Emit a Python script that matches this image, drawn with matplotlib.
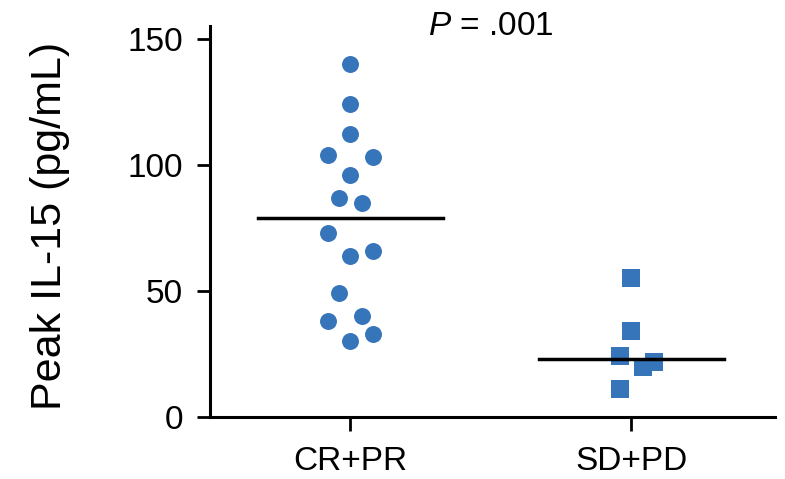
import numpy as np
import matplotlib
matplotlib.use("Agg")
import matplotlib.pyplot as plt

plt.rcParams['font.family'] = ['Liberation Sans', 'DejaVu Sans']
plt.rcParams['mathtext.fontset'] = 'custom'
plt.rcParams['mathtext.it'] = 'Liberation Sans:italic'
plt.rcParams['mathtext.rm'] = 'Liberation Sans'

groups = ["CR+PR", "SD+PD"]

# peak IL-15 values, with small horizontal jitter offsets
cr_pr = [140, 124, 112, 104, 103, 96, 87, 85, 73, 64, 66, 49, 38, 40, 30, 33]
cr_pr_dx = [0, 0, 0, -0.08, 0.08, 0, -0.04, 0.04, -0.08, 0, 0.08, -0.04, -0.08, 0.04, 0, 0.08]
sd_pd = [55, 34, 24, 20, 22, 11]
sd_pd_dx = [0, 0, -0.04, 0.04, 0.08, -0.04]
medians = [79, 23]
p_text = r"$\it{P}$ = .001"

blue = "#3775BA"

fig = plt.figure(figsize=(7.85, 4.79), dpi=100)
ax = fig.add_axes([0.2675, 0.1294, 0.7195, 0.8163])

ax.plot(0 + np.array(cr_pr_dx), cr_pr, 'o', color=blue, markersize=12.2, markeredgewidth=0, zorder=3)
ax.plot(1 + np.array(sd_pd_dx), sd_pd, 's', color=blue, markersize=12.5, markeredgewidth=0, zorder=3)

for i, m in enumerate(medians):
    ax.plot([i - 0.33, i + 0.33], [m, m], color='black', linewidth=2.5, zorder=4)

ax.set_xlim(-0.5, 1.51)
ax.set_ylim(0, 155)
ax.set_yticks([0, 50, 100, 150])
ax.set_xticks([0, 1])
ax.set_xticklabels(groups)

for s in ['top', 'right']:
    ax.spines[s].set_visible(False)
for s in ['left', 'bottom']:
    ax.spines[s].set_linewidth(2.2)

ax.tick_params(axis='y', length=9.5, width=2, labelsize=24, pad=10)
ax.tick_params(axis='x', length=10, width=2, labelsize=24, pad=11)

ax.text(0.5, 151.5, p_text, ha='center', va='baseline', fontsize=24)

fig.text(50 / 785, 0.528, "Peak IL-15 (pg/mL)", rotation=90, ha='center', va='center', fontsize=31)

fig.savefig("out.png", dpi=100)
